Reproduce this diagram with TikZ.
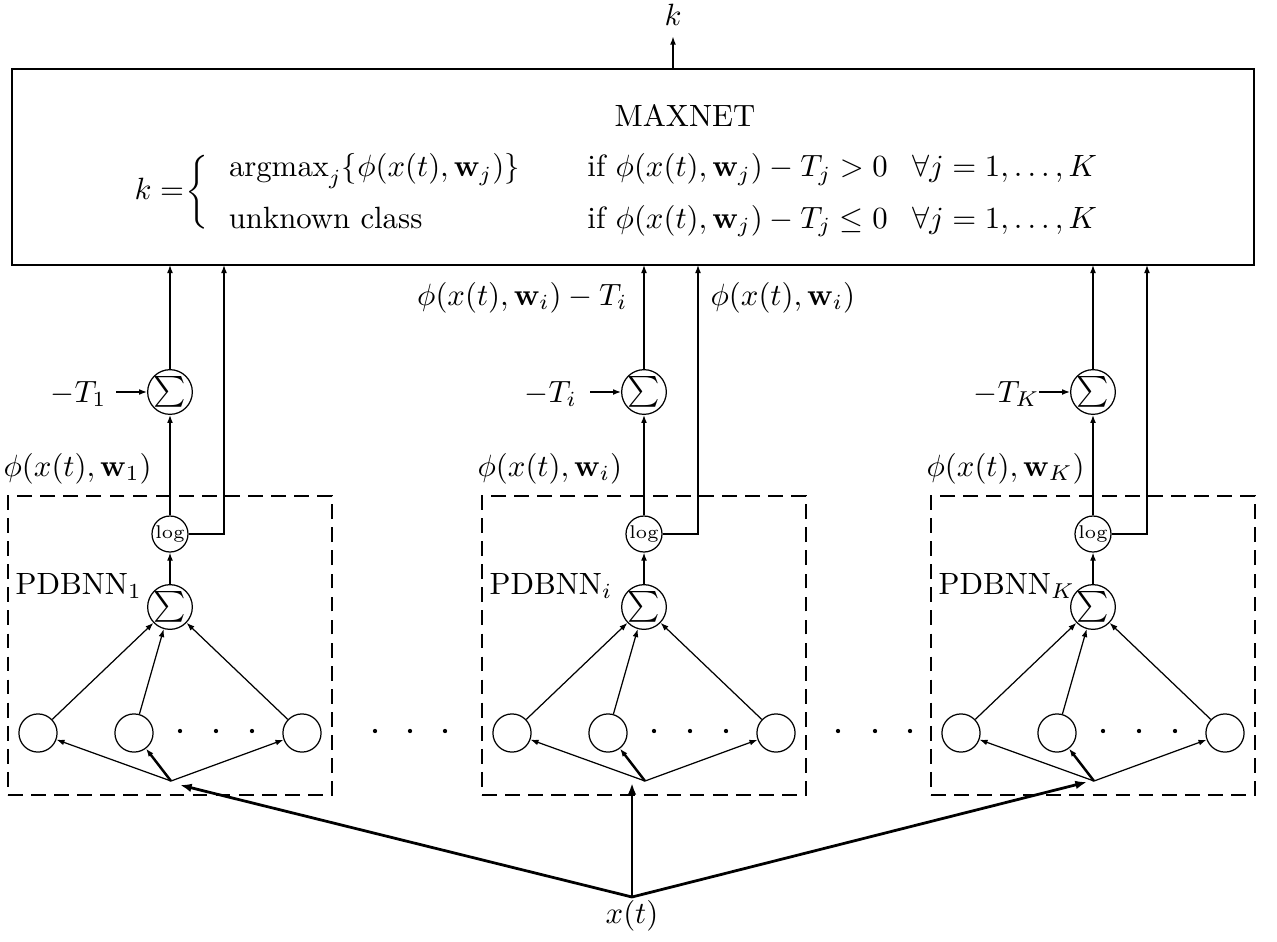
\documentclass[tikz,border=0pt]{standalone}
\usepackage{amsmath}
\usetikzlibrary{arrows.meta}
\begin{document}
\begin{tikzpicture}[x=0.325pt,y=-0.325pt,
  arr/.style={-{Latex[length=2.6pt,width=1.9pt]}, line width=0.4pt},
  bigarr/.style={-{Latex[length=3.8pt,width=2.8pt]}, line width=0.9pt},
  sumnode/.style={circle,draw,line width=0.4pt,inner sep=0pt,minimum size=11.7pt},
  unitnode/.style={circle,draw,line width=0.4pt,inner sep=0pt,minimum size=12.4pt},
  pbox/.style={draw,line width=0.7pt,dash pattern=on 4.8pt off 2.7pt,inner sep=0pt,minimum width=105.3pt,minimum height=97.2pt},
  dotm/.style={circle,fill,inner sep=0pt,minimum size=1.4pt},
  lab/.style={inner sep=0pt,anchor=base west},
]
\useasboundingbox (0,0) rectangle (1277,941);

% MAXNET box
\node[draw,line width=0.45pt,inner sep=0pt,minimum width=403.6pt,minimum height=63.7pt] (maxnet) at (633,167) {};
\node[inner sep=0pt,anchor=base] (title) at (685,126) {MAXNET};
\renewcommand{\arraystretch}{1.4}
\node[inner sep=0pt,anchor=west] (eq) at (134,192) {$k \mathrel{=}\mkern-4mu\biggl\{\begin{array}{@{\hspace{6.5pt}}l@{\hspace{22pt}}l@{}}
 \mathrm{argmax}_j\{\phi(x(t),\mathbf{w}_j)\} & \text{if } \phi(x(t),\mathbf{w}_j)-T_j>0\hspace{8pt}\forall j=1,\ldots,K\\
 \text{unknown class} & \text{if } \phi(x(t),\mathbf{w}_j)-T_j\le 0\hspace{8pt}\forall j=1,\ldots,K
 \end{array}$};

% output
\node (kout) at (673,15) {$k$};
\coordinate (ktop) at (673,69);
\draw[arr] (ktop) -- (kout);

% middle labels
\node[inner sep=0pt,anchor=base east] (lbldiff) at (628,305) {$\phi(x(t),\mathbf{w}_i)-T_i$};
\node[lab] (lblphi) at (710,305) {$\phi(x(t),\mathbf{w}_i)$};

% columns
\foreach \n/\cx in {1/170, i/644, K/1093} {
  \node[pbox] (box\n) at (\cx,645.5) {};
  \node[sumnode] (st\n) at (\cx,392) {$\sum$};
  \node[sumnode] (lg\n) at (\cx,534) {\fontsize{6}{7}\selectfont log};
  \node[sumnode] (sb\n) at (\cx,607) {$\sum$};
  \node[unitnode] (ua\n) at (\cx-132,733) {};
  \node[unitnode] (ub\n) at (\cx-36,733) {};
  \node[unitnode] (uc\n) at (\cx+132,733) {};
  \node[dotm] (da\n) at (\cx+10,731) {};
  \node[dotm] (db\n) at (\cx+46,731) {};
  \node[dotm] (dc\n) at (\cx+82,731) {};
  \coordinate (fan\n) at (\cx+1,781);
  \draw[arr] (fan\n) -- (ua\n);
  \draw[arr,line width=0.8pt] (fan\n) -- (ub\n);
  \draw[arr] (fan\n) -- (uc\n);
  \draw[arr] (ua\n) -- (sb\n);
  \draw[arr] (ub\n) -- (sb\n);
  \draw[arr] (uc\n) -- (sb\n);
  \draw[arr] (sb\n) -- (lg\n);
  \draw[arr] (lg\n) -- (st\n);
  \coordinate (ba\n) at (\cx,265);
  \coordinate (bb\n) at (\cx+54,265);
  \draw[arr] (st\n) -- (ba\n);
  \draw[arr] (lg\n.east) -| (bb\n);
  \node[lab] (T\n) at (\cx-120,402) {$-T_\n$};
  \coordinate (Ts\n) at (\cx-54,392);
  \draw[arr] (Ts\n) -- (st\n);
  \node[lab] (phi\n) at (\cx-167,476) {$\phi(x(t),\mathbf{w}_\n)$};
  \node[lab] (pd\n) at (\cx-155,594) {PDBNN$_\n$};
}

% dots between columns
\foreach \x [count=\k] in {375,410,445,838,875,910} {
  \node[dotm] (gap\k) at (\x,731) {};
}

% input
\node[inner sep=0pt] (xt) at (632,916) {$x(t)$};
\coordinate (xin) at (632,897);
\coordinate (ea1) at (180,785);
\coordinate (eai) at (632,783);
\coordinate (eaK) at (1087,782);
\draw[bigarr] (xin) -- (ea1);
\draw[bigarr] (xin) -- (eai);
\draw[bigarr] (xin) -- (eaK);
\end{tikzpicture}
\end{document}
